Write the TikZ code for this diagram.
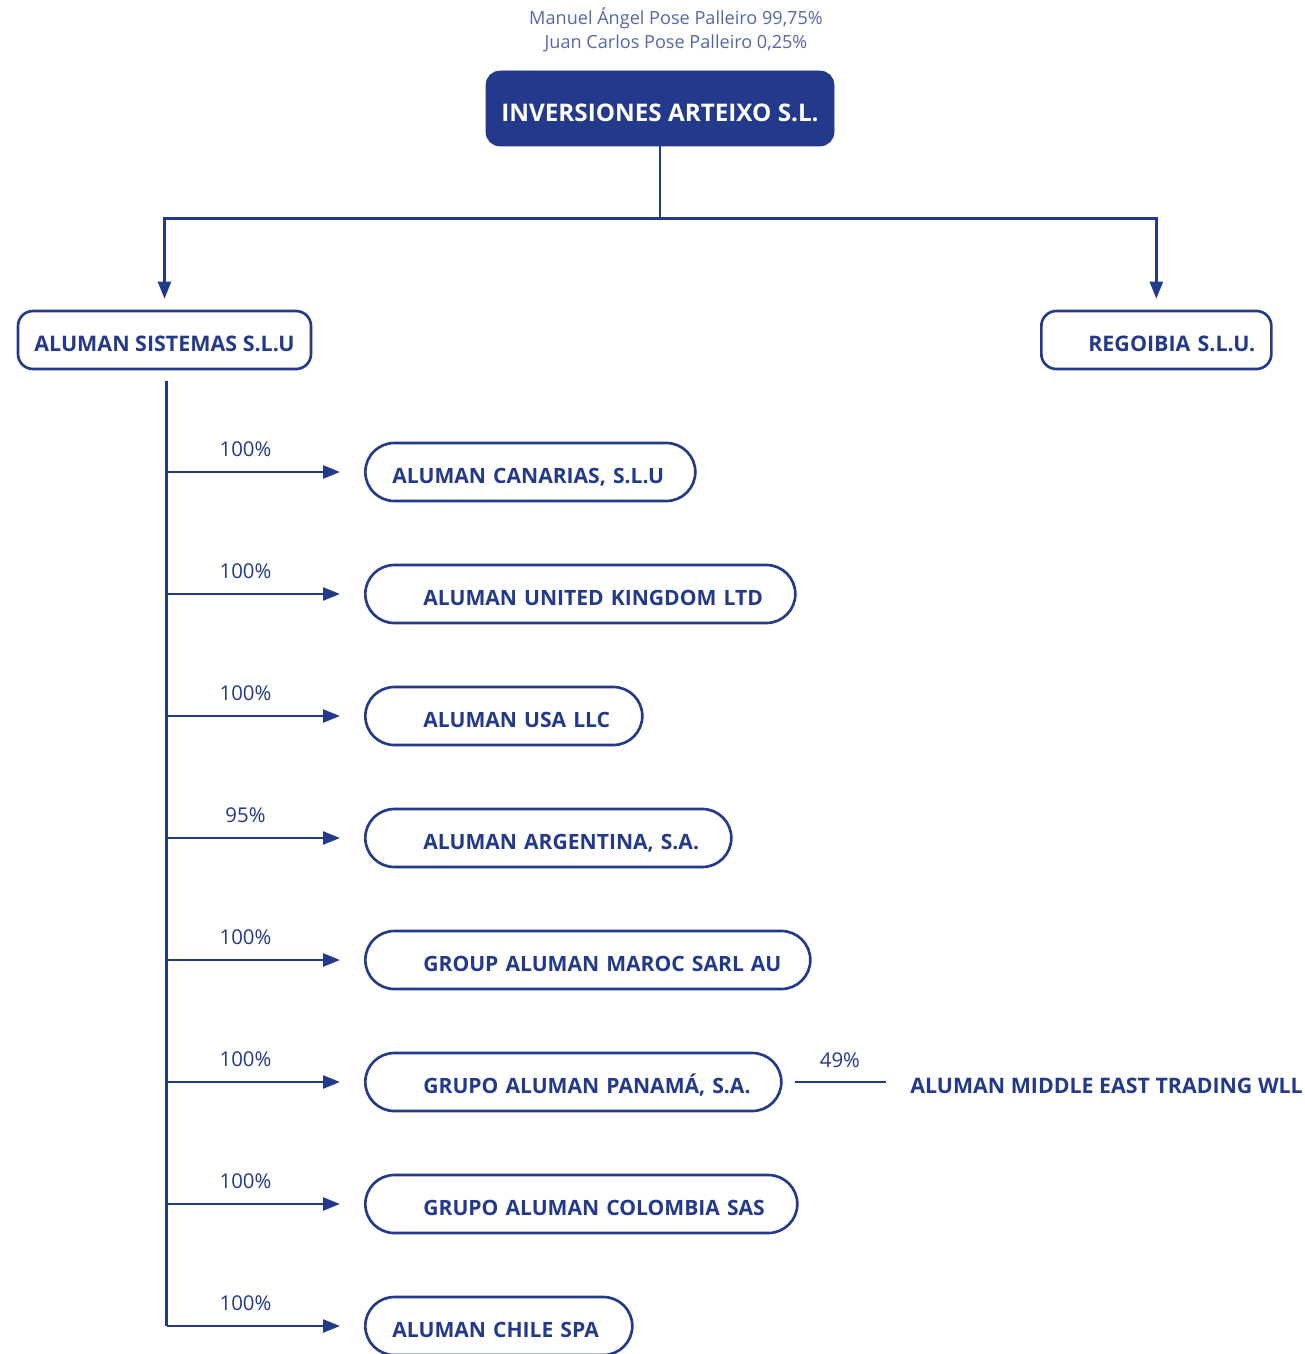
\documentclass[tikz,border=0pt]{standalone}
\usepackage{fontspec}
\setmainfont{Open Sans}
\usetikzlibrary{arrows.meta}
\definecolor{aluBlue}{HTML}{23398C}
\definecolor{ownerBlue}{HTML}{5566AA}
\tikzset{
	link/.style={draw=aluBlue, line width=1.35pt},
	tip/.style={-{Triangle[length=0.34cm,width=0.26cm]}},
	headbox/.style={fill=aluBlue, draw=aluBlue, rounded corners=0.28cm, text=white, font=\bfseries\fontsize{13.8}{16}\selectfont, minimum width=6.96cm, minimum height=1.5cm, text height=0.53cm, text depth=0pt},
	firmbox/.style={draw=aluBlue, line width=1.5pt, rounded corners=0.3cm, text=aluBlue, font=\bfseries\fontsize{12.2}{14}\selectfont, minimum height=1.16cm, text height=0.45cm, text depth=0pt},
	kidbox/.style={firmbox, font=\bfseries\fontsize{12}{14}\selectfont, rounded corners=0.58cm, anchor=west, align=left, inner xsep=0pt},
	pct/.style={text=aluBlue, font=\fontsize{11.6}{13}\selectfont, inner sep=0pt},
}
\begin{document}
\begin{tikzpicture}
	\useasboundingbox (0,0) rectangle (26.08,-27.08);
	\clip (0,0) rectangle (26.08,-27.08);
%	owners and holding
	\node[text=ownerBlue, font=\fontsize{10.3}{13.6}\selectfont, align=center] (owners) at (13.52,-0.6) {Manuel Ángel Pose Palleiro 99,75\%\\Juan Carlos Pose Palleiro 0,25\%};
	\node[headbox] (arteixo) at (13.2,-2.17) {INVERSIONES ARTEIXO S.L.};
	\node[firmbox, minimum width=5.86cm] (sistemas) at (3.29,-6.8) {ALUMAN SISTEMAS S.L.U};
	\node[firmbox, anchor=west, align=left, inner xsep=0pt, text width=4.6cm] (regoibia) at (20.8,-6.8) {\hspace*{0.94cm}REGOIBIA S.L.U.};
	\draw[link] (arteixo.south) -- ++(0,-1.44) coordinate (fork);
	\draw[link, tip, shorten >=0.22cm] (fork) -| (sistemas.north);
	\draw[link, tip, shorten >=0.22cm] (fork) -| (regoibia.north);
%	subsidiaries of aluman sistemas
	\node[kidbox, text width=6.6cm] (canarias) at (7.28,-9.44) {\hspace*{0.54cm}ALUMAN CANARIAS, S.L.U};
	\node[kidbox, text width=8.6cm] (kingdom) at (7.28,-11.88) {\hspace*{1.16cm}ALUMAN UNITED KINGDOM LTD};
	\node[kidbox, text width=5.54cm] (usa) at (7.28,-14.32) {\hspace*{1.16cm}ALUMAN USA LLC};
	\node[kidbox, text width=7.32cm] (argentina) at (7.28,-16.76) {\hspace*{1.16cm}ALUMAN ARGENTINA, S.A.};
	\node[kidbox, text width=8.9cm] (maroc) at (7.28,-19.2) {\hspace*{1.16cm}GROUP ALUMAN MAROC SARL AU};
	\node[kidbox, text width=8.32cm] (panama) at (7.28,-21.64) {\hspace*{1.16cm}GRUPO ALUMAN PANAMÁ, S.A.};
	\node[kidbox, text width=8.64cm] (colombia) at (7.28,-24.08) {\hspace*{1.16cm}GRUPO ALUMAN COLOMBIA SAS};
	\node[kidbox, text width=5.34cm] (chile) at (7.28,-26.52) {\hspace*{0.54cm}ALUMAN CHILE SPA};
	\coordinate (trunk) at ([xshift=0.04cm,yshift=-0.22cm]sistemas.south);
	\draw[link] (trunk) -- (trunk |- chile.west);
	\draw[link, tip, shorten >=0.48cm] (trunk |- canarias.west) -- node[pct, pos=0.4, yshift=0.46cm] {100\%} (canarias.west);
	\draw[link, tip, shorten >=0.48cm] (trunk |- kingdom.west) -- node[pct, pos=0.4, yshift=0.46cm] {100\%} (kingdom.west);
	\draw[link, tip, shorten >=0.48cm] (trunk |- usa.west) -- node[pct, pos=0.4, yshift=0.46cm] {100\%} (usa.west);
	\draw[link, tip, shorten >=0.48cm] (trunk |- argentina.west) -- node[pct, pos=0.4, yshift=0.46cm] {95\%} (argentina.west);
	\draw[link, tip, shorten >=0.48cm] (trunk |- maroc.west) -- node[pct, pos=0.4, yshift=0.46cm] {100\%} (maroc.west);
	\draw[link, tip, shorten >=0.48cm] (trunk |- panama.west) -- node[pct, pos=0.4, yshift=0.46cm] {100\%} (panama.west);
	\draw[link, tip, shorten >=0.48cm] (trunk |- colombia.west) -- node[pct, pos=0.4, yshift=0.46cm] {100\%} (colombia.west);
	\draw[link, tip, shorten >=0.48cm] (trunk |- chile.west) -- node[pct, pos=0.4, yshift=0.46cm] {100\%} (chile.west);
%	participation of panama
	\node[anchor=west, inner sep=0pt, text=aluBlue, font=\bfseries\fontsize{12.15}{14}\selectfont] (mideast) at (18.2,-21.72) {ALUMAN MIDDLE EAST TRADING WLL};
	\draw[link, shorten <=0.24cm, shorten >=0.48cm] (panama.east) -- node[pct, pos=0.45, yshift=0.44cm] {49\%} (panama.east -| mideast.west);
\end{tikzpicture}
\end{document}
